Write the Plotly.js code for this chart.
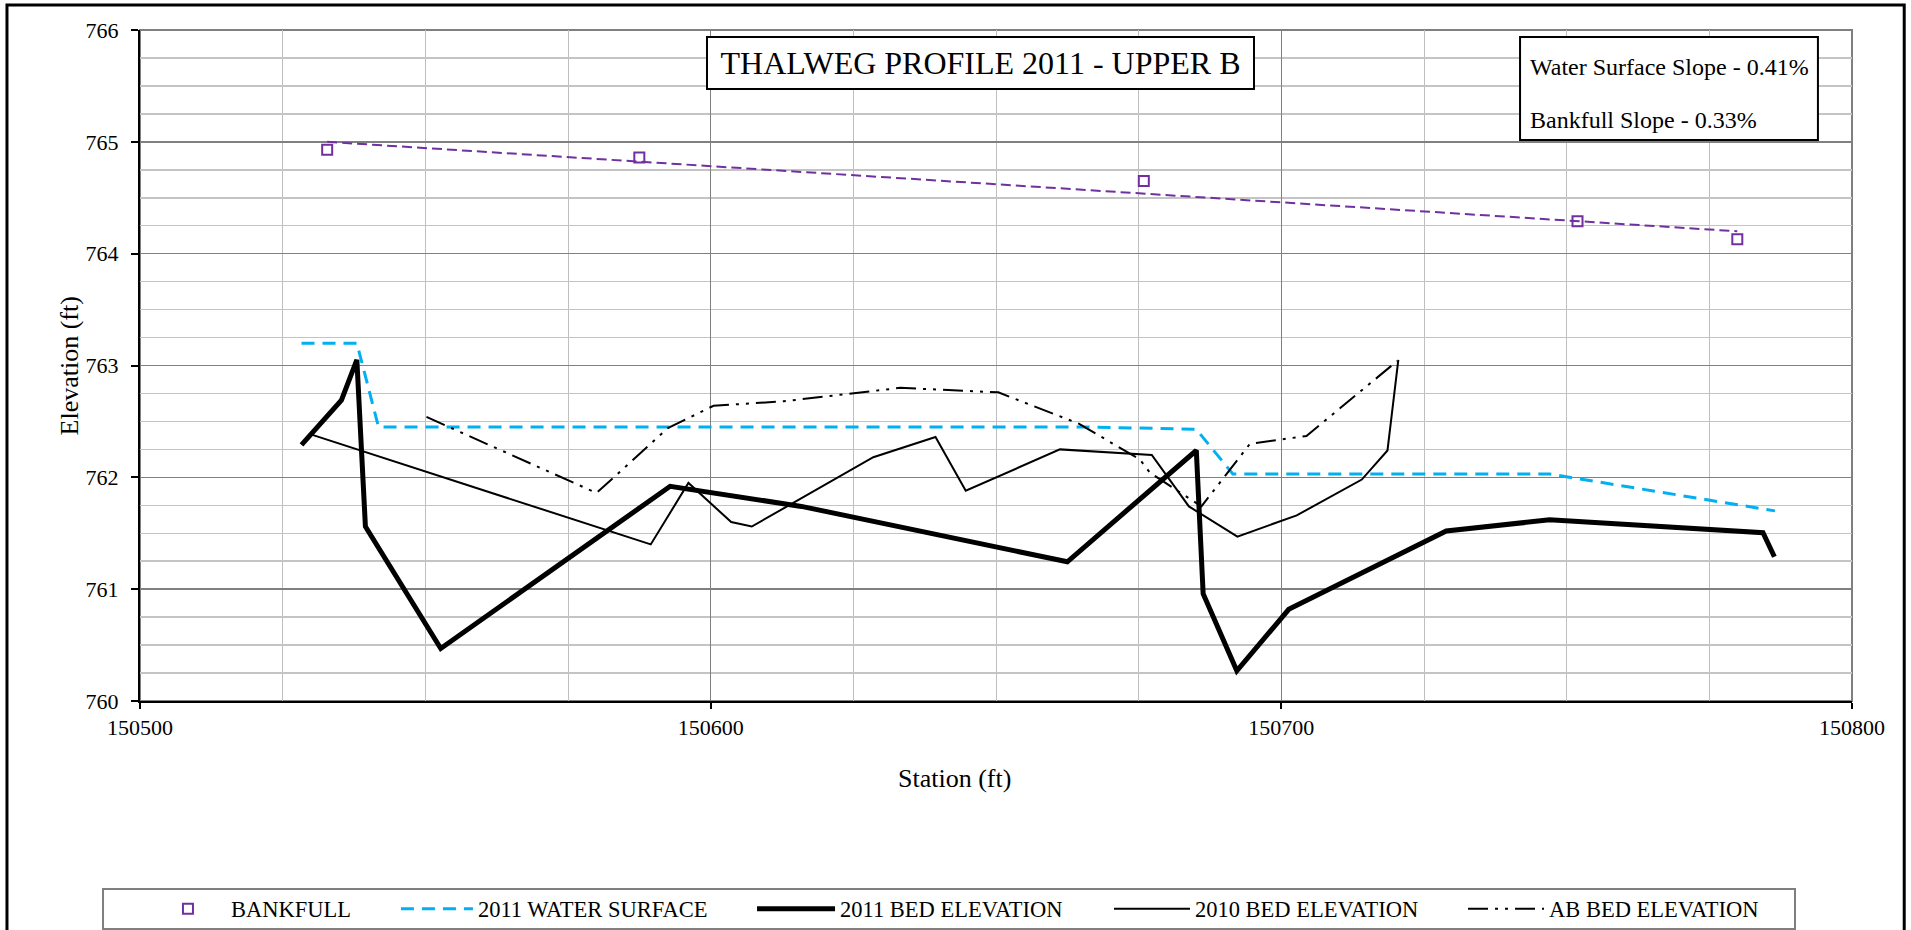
<!DOCTYPE html>
<html>
<head>
<meta charset="utf-8">
<script src="https://cdn.plot.ly/plotly-3.0.1.min.js"></script>
<style>
  html, body { margin: 0; padding: 0; background: #fff; width: 1911px; height: 930px; overflow: hidden; }
  #myDiv { width: 1911px; height: 930px; overflow: hidden; }
</style>
</head>
<body>
<div id="myDiv"></div>
<script>
// values (station ft, elevation ft)
var bankfullStation = [150532.8, 150587.5, 150675.9, 150751.9, 150779.9];
var bankfullElev = [764.93, 764.86, 764.65, 764.29, 764.13];

// excel linear trend line through the bankfull points (end points as drawn)
var bankfullTrendStation = [150532.8, 150779.9];
var bankfullTrendElev = [765.00, 764.20];

var ws2011Station = [150528.3, 150538.0, 150541.8, 150665.6, 150685.1, 150691.5, 150747.0, 150786.5];
var ws2011Elev = [763.20, 763.20, 762.45, 762.45, 762.43, 762.03, 762.03, 761.70];

var bed2011Station = [150528.3, 150535.3, 150538.0, 150539.5, 150552.7, 150592.9, 150615.9, 150662.5,
  150685.1, 150686.3, 150692.2, 150701.3, 150728.9, 150747.0, 150784.4, 150786.4];
var bed2011Elev = [762.29, 762.69, 763.05, 761.56, 760.47, 761.92, 761.74, 761.245,
  762.24, 760.96, 760.27, 760.82, 761.52, 761.62, 761.505, 761.29];

var bed2010Station = [150530.2, 150589.5, 150596.1, 150603.6, 150607.2, 150628.5, 150639.4, 150644.7,
  150661.2, 150677.3, 150683.8, 150692.3, 150702.7, 150714.1, 150718.6, 150720.5];
var bed2010Elev = [762.38, 761.40, 761.95, 761.60, 761.56, 762.18, 762.36, 761.88,
  762.25, 762.20, 761.74, 761.47, 761.66, 761.98, 762.24, 763.05];

var abBedStation = [150550.2, 150580.0, 150592.5, 150600.5, 150612.8, 150624.6, 150633.2, 150650.4,
  150664.5, 150675.2, 150677.0, 150686.0, 150694.5, 150704.4, 150720.3];
var abBedElev = [762.54, 761.86, 762.44, 762.64, 762.68, 762.75, 762.80, 762.76,
  762.48, 762.16, 762.04, 761.74, 762.30, 762.37, 763.04];

var xTickVals = [150500, 150600, 150700, 150800];
var yTickVals = [760, 761, 762, 763, 764, 765, 766];

var chartTitle = 'THALWEG PROFILE 2011 - UPPER B';
var slopeNotes = ['Water Surface Slope - 0.41%', 'Bankfull Slope - 0.33%'];

var serif = 'Liberation Serif, Times New Roman, serif';

var bankfull = {
  x: bankfullStation, y: bankfullElev,
  name: 'BANKFULL', type: 'scatter', mode: 'markers',
  marker: { symbol: 'square-open', size: 10, color: '#7030A0', line: { width: 2, color: '#7030A0' } },
  legend: 'legend'
};
var trend = {
  x: bankfullTrendStation, y: bankfullTrendElev,
  type: 'scatter', mode: 'lines', showlegend: false, hoverinfo: 'skip',
  line: { color: '#7030A0', width: 2, dash: '10px,5px' }
};
var ws = {
  x: ws2011Station, y: ws2011Elev,
  name: '2011 WATER SURFACE', type: 'scatter', mode: 'lines',
  line: { color: '#00B0F0', width: 3, dash: '13px,8px' },
  legend: 'legend2'
};
var bed11 = {
  x: bed2011Station, y: bed2011Elev,
  name: '2011 BED ELEVATION', type: 'scatter', mode: 'lines',
  line: { color: '#000', width: 5 },
  legend: 'legend3'
};
var bed10 = {
  x: bed2010Station, y: bed2010Elev,
  name: '2010 BED ELEVATION', type: 'scatter', mode: 'lines',
  line: { color: '#000', width: 2 },
  legend: 'legend4'
};
var ab = {
  x: abBedStation, y: abBedElev,
  name: 'AB BED ELEVATION', type: 'scatter', mode: 'lines',
  line: { color: '#000', width: 2, dash: '20px,7px,3px,7px,3px,7px' },
  legend: 'legend5'
};

var data = [ws, bed11, bed10, ab, trend, bankfull];

function leg(x, w) {
  return {
    x: x, y: -0.31, xanchor: 'left', yanchor: 'middle', orientation: 'h',
    bgcolor: 'rgba(0,0,0,0)', borderwidth: 0, itemwidth: w,
    font: { family: serif, size: 22.5, color: '#000' }
  };
}

var layout = {
  autosize: false,
  width: 1911, height: 930,
  // legends sit below the plot; keep them from pushing the margins
  margin: { l: 140, r: 59, t: 30, b: 229, autoexpand: false },
  paper_bgcolor: '#fff', plot_bgcolor: '#fff',
  font: { family: serif, size: 22, color: '#000' },
  showlegend: true,
  xaxis: {
    range: [150500, 150800], tickvals: xTickVals, tickformat: 'd',
    ticks: 'outside', ticklen: 6, tickwidth: 2, tickcolor: '#000',
    tickfont: { family: serif, size: 22, color: '#000' },
    showgrid: true, gridcolor: '#808080', gridwidth: 1,
    minor: { dtick: 25, tick0: 150500, showgrid: true, gridcolor: '#bfbfbf', gridwidth: 1, ticks: '' },
    showline: true, linecolor: '#000', linewidth: 2, zeroline: false, fixedrange: true
  },
  yaxis: {
    range: [760, 766], tickvals: yTickVals, tickformat: 'd',
    ticks: 'outside', ticklen: 7, tickwidth: 2, tickcolor: '#000',
    ticklabelstandoff: 8,
    tickfont: { family: serif, size: 22, color: '#000' },
    showgrid: true, gridcolor: '#808080', gridwidth: 1.5,
    minor: { dtick: 0.25, tick0: 760, showgrid: true, gridcolor: '#c4c4c4', gridwidth: 1.5, ticks: '' },
    showline: true, linecolor: '#000', linewidth: 2, zeroline: false, fixedrange: true
  },
  legend: leg(0.0029, 76),
  legend2: leg(0.1495, 72),
  legend3: leg(0.3575, 78),
  legend4: leg(0.5660, 76),
  legend5: leg(0.7728, 76),
  shapes: [
    // outer chart border
    { type: 'rect', xref: 'paper', yref: 'paper', x0: -0.0777, x1: 1.0305, y0: -0.36, y1: 1.0373,
      line: { color: '#000', width: 3 }, layer: 'below' },
    // plot area border
    { type: 'rect', xref: 'paper', yref: 'paper', x0: 0, x1: 1, y0: 0, y1: 1,
      line: { color: '#808080', width: 2 }, layer: 'below' },
    // legend box
    { type: 'rect', xref: 'paper', yref: 'paper', x0: -0.0216, x1: 0.9667, y0: -0.3398, y1: -0.2802,
      line: { color: '#7f7f7f', width: 2 }, layer: 'below' },
    // slope note box
    { type: 'rect', xref: 'paper', yref: 'paper', x0: 0.8061, x1: 0.9801, y0: 0.8361, y1: 0.9896,
      line: { color: '#000', width: 2 }, fillcolor: '#fff', layer: 'above' }
  ],
  annotations: [
    { text: chartTitle, xref: 'paper', yref: 'paper', x: 0.4909, y: 0.9508,
      xanchor: 'center', yanchor: 'middle', showarrow: false,
      width: 545, height: 50, borderpad: 0, borderwidth: 2, bordercolor: '#000', bgcolor: '#fff',
      font: { family: serif, size: 32, color: '#000' } },
    { text: slopeNotes[0], xref: 'paper', yref: 'paper', x: 0.8107, y: 0.9454,
      xanchor: 'left', yanchor: 'middle', showarrow: false,
      font: { family: serif, size: 24, color: '#000' } },
    { text: slopeNotes[1], xref: 'paper', yref: 'paper', x: 0.8107, y: 0.8666,
      xanchor: 'left', yanchor: 'middle', showarrow: false,
      font: { family: serif, size: 24, color: '#000' } },
    { text: 'Elevation (ft)', xref: 'paper', yref: 'paper', x: -0.0409, y: 0.5,
      xanchor: 'center', yanchor: 'middle', textangle: -90, showarrow: false,
      font: { family: serif, size: 26, color: '#000' } },
    { text: 'Station (ft)', xref: 'paper', yref: 'paper', x: 0.476, y: -0.1162,
      xanchor: 'center', yanchor: 'middle', showarrow: false,
      font: { family: serif, size: 26, color: '#000' } }
  ]
};

Plotly.newPlot('myDiv', data, layout, { displayModeBar: false, staticPlot: true, responsive: false });
</script>
</body>
</html>
